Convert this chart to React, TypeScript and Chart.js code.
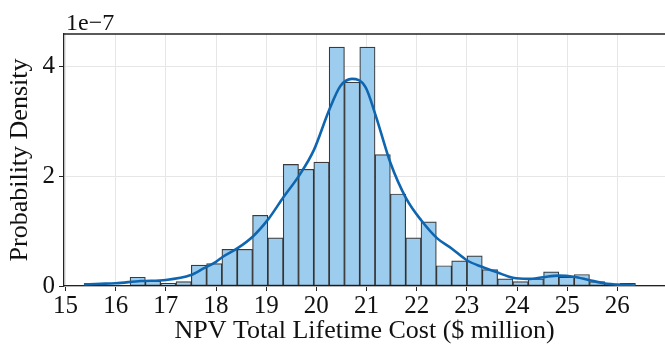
import React, { useEffect, useRef } from "react";
import { Chart, registerables } from "chart.js";

Chart.register(...registerables);

// Histogram bin centres (NPV total lifetime cost, $ million)
const binCenters = [
  15.523, 15.828, 16.133, 16.439, 16.744, 17.049, 17.355, 17.66, 17.965, 18.27,
  18.576, 18.881, 19.186, 19.492, 19.797, 20.102, 20.408, 20.713, 21.018, 21.323,
  21.629, 21.934, 22.239, 22.545, 22.85, 23.155, 23.461, 23.766, 24.071, 24.376,
  24.682, 24.987, 25.292, 25.598, 25.903, 26.208,
];
// Histogram density (×1e-7)
const binDensity = [
  0.05, 0, 0, 0.16, 0.09, 0.05, 0.08, 0.38, 0.41, 0.67,
  0.67, 1.29, 0.88, 2.22, 2.13, 2.26, 4.36, 3.72, 4.36, 2.4,
  1.68, 0.88, 1.17, 0.37, 0.46, 0.55, 0.3, 0.13, 0.08, 0.13,
  0.26, 0.16, 0.21, 0.08, 0.04, 0.05,
];
// KDE curve (×1e-7)
const kdeX = [
  15.37, 15.7, 16.0, 16.5, 17.0, 17.5, 17.75, 18.0, 18.13, 18.43, 18.73, 19.05,
  19.35, 19.66, 19.95, 20.25, 20.48, 20.71, 20.98, 21.18, 21.48, 21.79, 22.09,
  22.41, 22.69, 23.0, 23.3, 23.6, 23.92, 24.22, 24.52, 24.83, 25.13, 25.43,
  25.73, 26.05, 26.36,
];
const kdeY = [
  0.03, 0.04, 0.05, 0.09, 0.11, 0.2, 0.32, 0.44, 0.53, 0.69, 0.9, 1.23,
  1.63, 2.02, 2.48, 3.2, 3.65, 3.78, 3.63, 3.12, 2.24, 1.6, 1.2,
  0.87, 0.69, 0.47, 0.35, 0.25, 0.15, 0.13, 0.16, 0.19, 0.17, 0.11,
  0.05, 0.02, 0.01,
];
const xTicks = [15, 16, 17, 18, 19, 20, 21, 22, 23, 24, 25, 26];
const yTicks = [0, 2, 4];
const xRange = [14.97, 26.95];
const yRange = [0, 4.6];
const offsetText = "1e\u22127";
const xTitle = "NPV Total Lifetime Cost ($ million)";
const yTitle = "Probability Density";

const FONT = "'Liberation Serif', 'Times New Roman', serif";

export default function App() {
  const ref = useRef<HTMLCanvasElement | null>(null);
  useEffect(() => {
    document.body.style.margin = "0";
    if (!ref.current) return;
    const framePlugin = {
      id: "frame",
      afterDraw(chart: any) {
        const { ctx, chartArea } = chart;
        ctx.save();
        ctx.strokeStyle = "#222";
        ctx.lineWidth = 1.3;
        ctx.beginPath();
        ctx.moveTo(chartArea.left, chartArea.top);
        ctx.lineTo(chartArea.right, chartArea.top);
        ctx.stroke();
        ctx.fillStyle = "#111";
        ctx.font = `24px ${FONT}`;
        ctx.textAlign = "left";
        ctx.textBaseline = "alphabetic";
        ctx.fillText(offsetText, chartArea.left + 2, chartArea.top - 4);
        ctx.restore();
      },
    };
    const chart = new Chart(ref.current, {
      type: "bar",
      data: {
        datasets: [
          {
            type: "line",
            data: kdeX.map((x, i) => ({ x, y: kdeY[i] })),
            borderColor: "#0f66b0",
            borderWidth: 2.6,
            pointRadius: 0,
            cubicInterpolationMode: "monotone",
            fill: false,
            order: 0,
          } as any,
          {
            type: "bar",
            data: binCenters.map((x, i) => ({ x, y: binDensity[i] })),
            backgroundColor: "#9dcdee",
            borderColor: "rgba(25,25,25,0.85)",
            borderWidth: 1.2,
            borderSkipped: false,
            barPercentage: 1,
            categoryPercentage: 1,
            order: 1,
          } as any,
        ],
      },
      options: {
        animation: false,
        responsive: false,
        maintainAspectRatio: false,
        layout: { padding: { top: 34, right: 0, left: 0, bottom: 0 } },
        plugins: { legend: { display: false }, tooltip: { enabled: false } },
        scales: {
          x: {
            type: "linear",
            offset: false,
            min: xRange[0],
            max: xRange[1],
            afterBuildTicks: (s: any) => {
              s.ticks = xTicks.map((v) => ({ value: v }));
            },
            afterFit: (s: any) => {
              s.height = 64;
            },
            grid: {
              offset: false,
              color: "#e6e6e6",
              lineWidth: 1,
              tickLength: 5,
              tickColor: "#222",
            },
            border: { color: "#222", width: 1.3 },
            ticks: {
              color: "#111",
              font: { family: FONT, size: 25 },
              padding: 0,
              maxRotation: 0,
              autoSkip: false,
            },
            title: {
              display: true,
              text: xTitle,
              color: "#111",
              font: { family: FONT, size: 26 },
              padding: { top: 0, bottom: 3 },
            },
          },
          y: {
            type: "linear",
            min: yRange[0],
            max: yRange[1],
            afterBuildTicks: (s: any) => {
              s.ticks = yTicks.map((v) => ({ value: v }));
            },
            afterFit: (s: any) => {
              s.width = 64;
            },
            grid: {
              color: "#e6e6e6",
              lineWidth: 1,
              tickLength: 5,
              tickColor: "#222",
            },
            border: { color: "#222", width: 1.3 },
            ticks: {
              color: "#111",
              font: { family: FONT, size: 25 },
              padding: 4,
            },
            title: {
              display: true,
              text: yTitle,
              color: "#111",
              font: { family: FONT, size: 26 },
              padding: { top: 5, bottom: 0 },
            },
          },
        },
      },
      plugins: [framePlugin],
    });
    return () => chart.destroy();
  }, []);
  return (
    <div style={{ width: 665, height: 350 }}>
      <canvas ref={ref} width={665} height={350} style={{ width: 665, height: 350 }} />
    </div>
  );
}
